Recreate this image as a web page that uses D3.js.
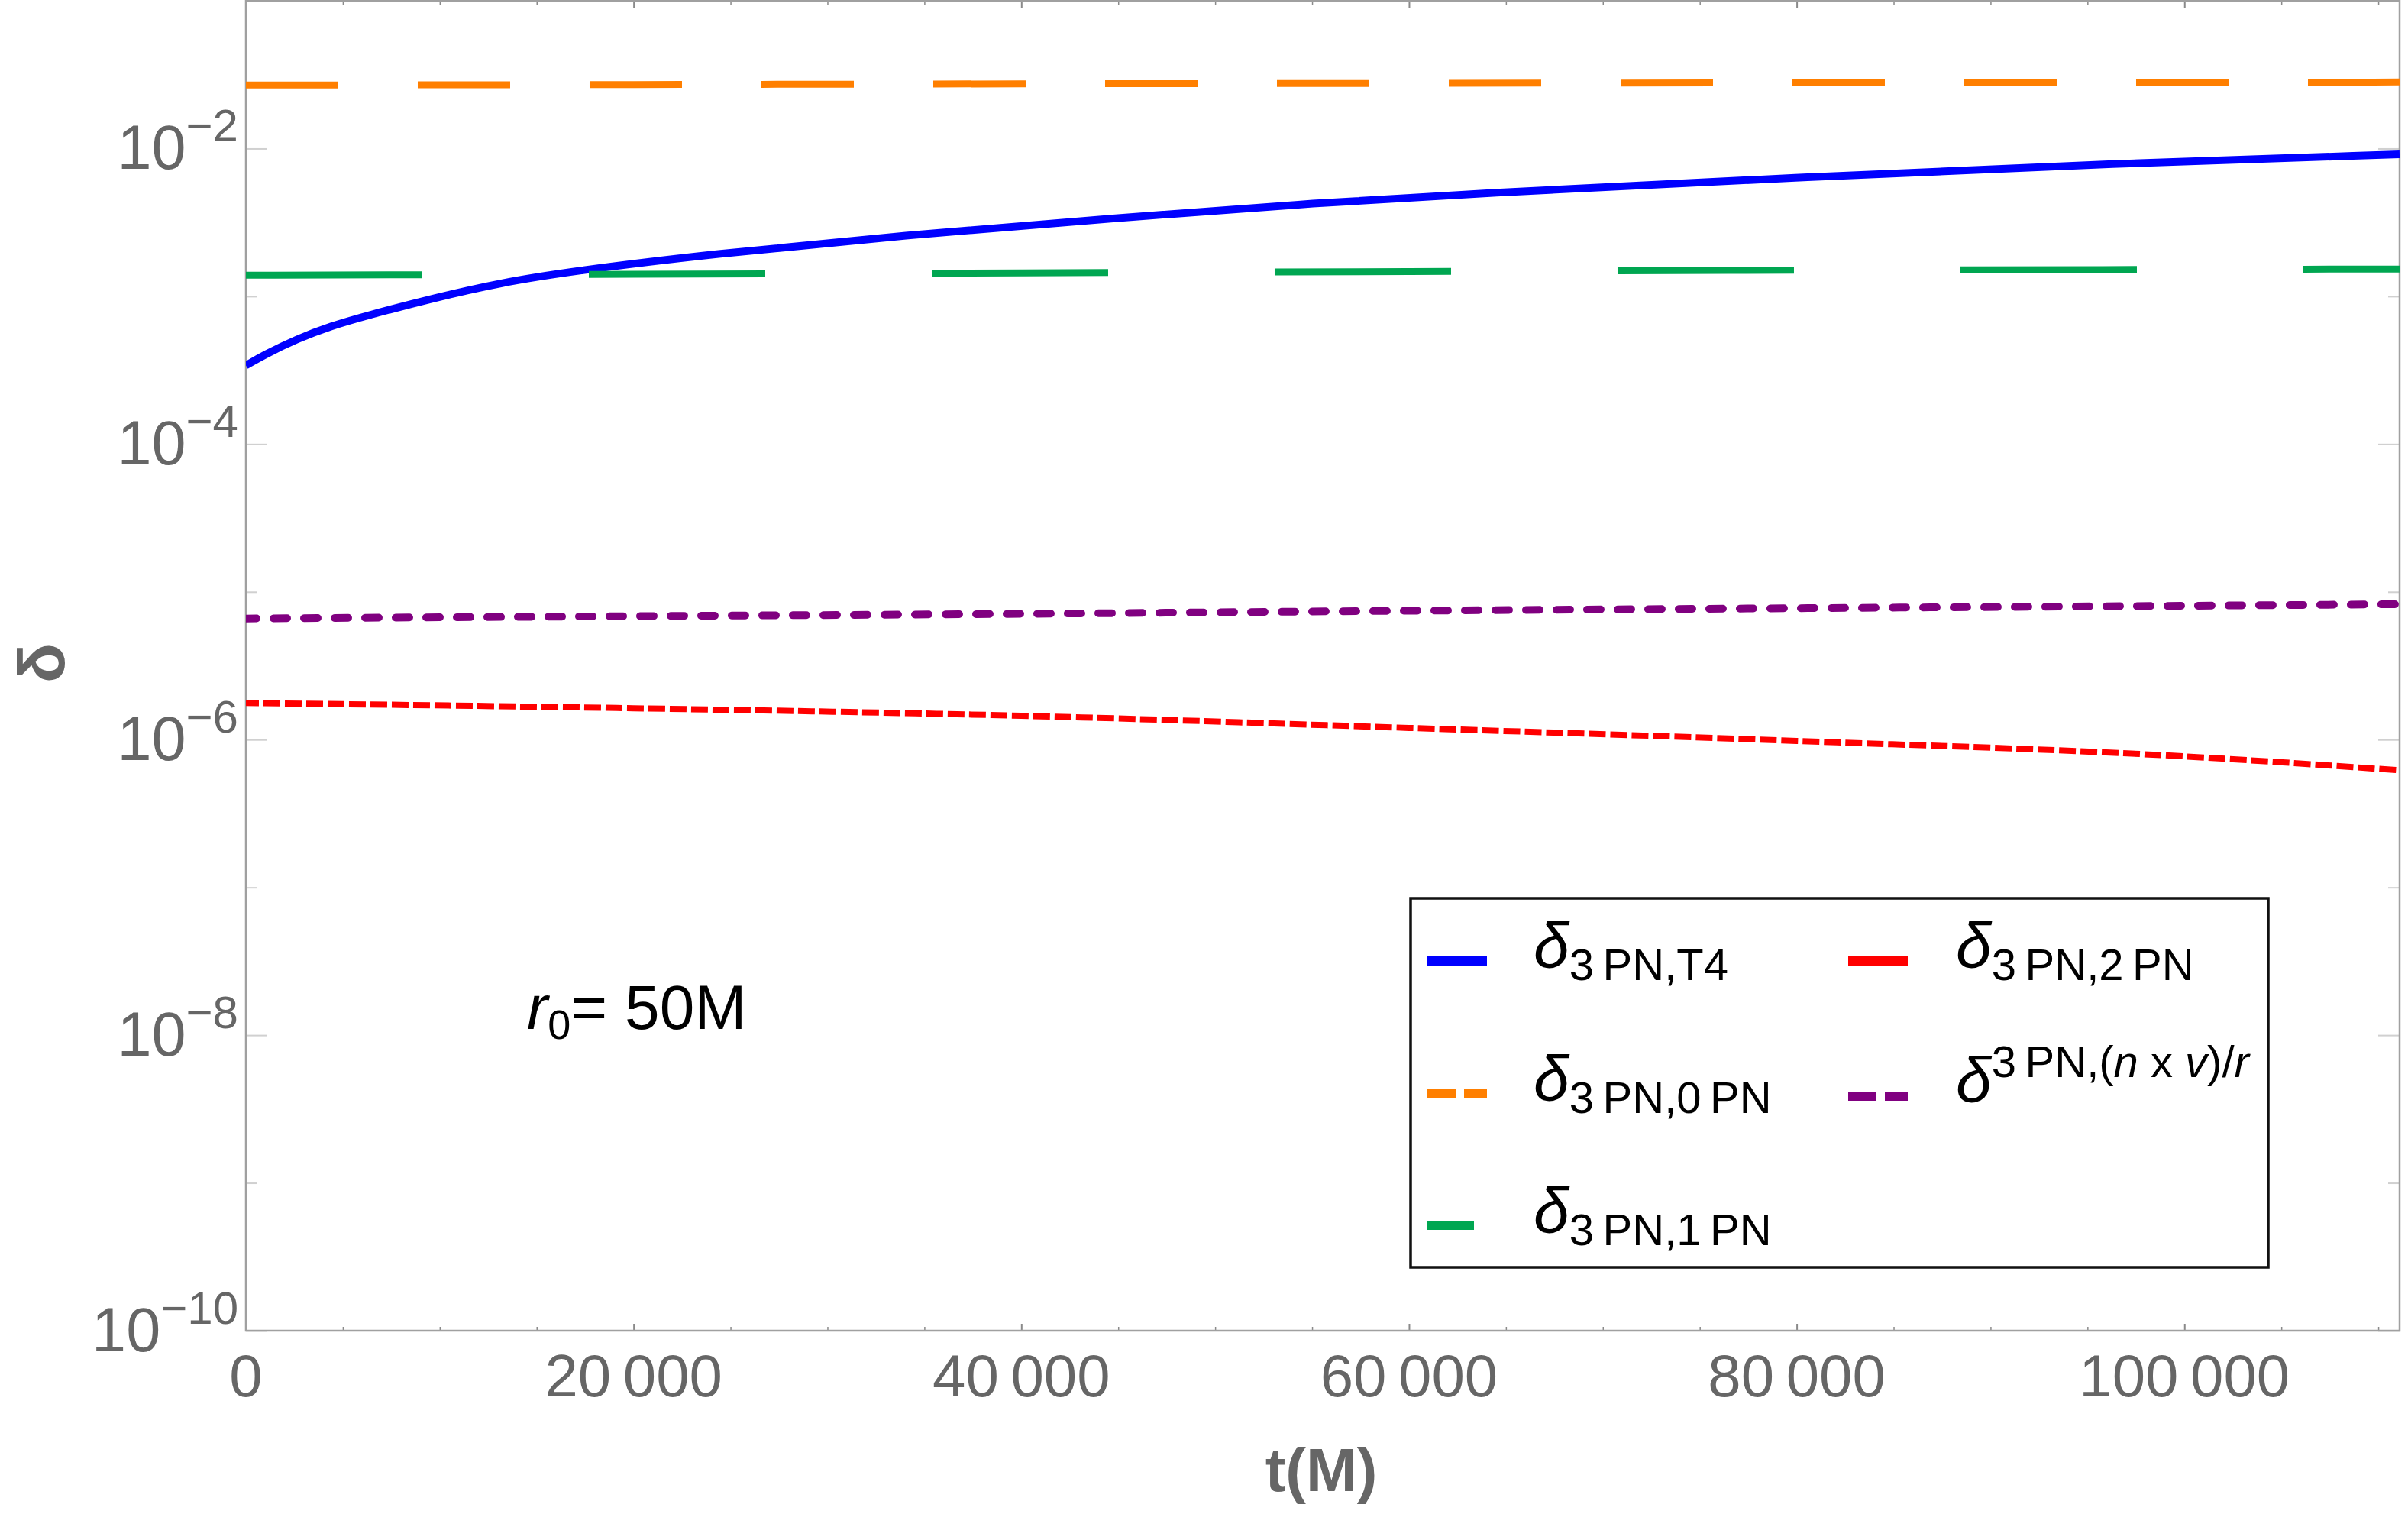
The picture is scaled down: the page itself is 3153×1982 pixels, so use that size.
<!DOCTYPE html>
<html>
<head>
<meta charset="utf-8">
<script src="https://cdn.jsdelivr.net/npm/d3@7"></script>
<style>
  html, body { margin: 0; padding: 0; background: #fff; }
  svg { display: block; font-family: "Liberation Sans", Arial, Helvetica, sans-serif; }
</style>
</head>
<body>
<svg id="chart" width="3153" height="1982"></svg>
<script>
// data (t in M, delta values)
const blueT = [0, 900, 2650, 4400, 6200, 9700, 13200, 16700, 23800, 34400, 44900,
  54400, 63200, 79900, 96700, 111100];
const blueVals = [3.4e-4, 3.99e-4, 5.16e-4, 6.3e-4, 7.38e-4, 9.75e-4, 1.24e-3, 1.47e-3, 1.92e-3,
  2.62e-3, 3.39e-3, 4.21e-3, 4.95e-3, 6.38e-3, 7.96e-3, 9.13e-3];

const gridT = [0, 20000, 40000, 60000, 80000, 100000, 111100];
const orangeVals = [0.0269, 0.0271, 0.0274, 0.0276, 0.0279, 0.0281, 0.0282];
const greenVals = [1.39e-3, 1.41e-3, 1.44e-3, 1.47e-3, 1.50e-3, 1.52e-3, 1.53e-3];
const redVals = [1.77e-6, 1.63e-6, 1.45e-6, 1.2e-6, 9.8e-7, 7.7e-7, 6.2e-7];
const purpleVals = [6.6e-6, 6.85e-6, 7.1e-6, 7.45e-6, 7.75e-6, 8.05e-6, 8.25e-6];

const xMajor = [0, 20000, 40000, 60000, 80000, 100000];
const xLabels = ["0", "20\u2009000", "40\u2009000", "60\u2009000", "80\u2009000", "100\u2009000"];
const xMinor = [5000, 10000, 15000, 25000, 30000, 35000, 45000, 50000, 55000, 65000, 70000,
  75000, 85000, 90000, 95000, 105000, 110000];
const yMajor = [1e-10, 1e-8, 1e-6, 1e-4, 1e-2];
const yExpLabels = ["\u221210", "\u22128", "\u22126", "\u22124", "\u22122"];
const yMinor = [1e-9, 1e-7, 1e-5, 1e-3, 1e-1];

const L = 322, R = 3142, T = 1, B = 1742;
const svg = d3.select('#chart');

const x = d3.scaleLinear().domain([0, 111100]).range([L, R]);
const y = d3.scaleLog().domain([1e-10, 1e-1]).range([B, T]);

svg.append('defs').append('clipPath').attr('id', 'plotclip')
  .append('rect').attr('x', L).attr('y', T).attr('width', R - L).attr('height', B - T);

// tick marks
function ticks(axis, tx, ty, color, w) {
  const g = svg.append('g').attr('transform', `translate(${tx},${ty})`).call(axis);
  g.select('.domain').remove();
  g.selectAll('line').attr('stroke', color).attr('stroke-width', w);
  g.selectAll('text').remove();
}
ticks(d3.axisBottom(x).tickValues(xMajor).tickSize(-9).tickFormat(''), 0, B, '#8a8a8a', 2);
ticks(d3.axisBottom(x).tickValues(xMinor).tickSize(-5).tickFormat(''), 0, B, '#8a8a8a', 1.5);
ticks(d3.axisTop(x).tickValues(xMajor).tickSize(-9).tickFormat(''), 0, T, '#8a8a8a', 2);
ticks(d3.axisTop(x).tickValues(xMinor).tickSize(-5).tickFormat(''), 0, T, '#8a8a8a', 1.5);
ticks(d3.axisLeft(y).tickValues(yMajor).tickSize(-28).tickFormat(''), L, 0, '#d0d0d0', 2);
ticks(d3.axisLeft(y).tickValues(yMinor).tickSize(-15).tickFormat(''), L, 0, '#d0d0d0', 2);
ticks(d3.axisRight(y).tickValues(yMajor).tickSize(-28).tickFormat(''), R, 0, '#d0d0d0', 2);
ticks(d3.axisRight(y).tickValues(yMinor).tickSize(-15).tickFormat(''), R, 0, '#d0d0d0', 2);

// frame
svg.append('rect').attr('x', L).attr('y', T).attr('width', R - L).attr('height', B - T)
  .attr('fill', 'none').attr('stroke', '#a0a0a0').attr('stroke-width', 2.5);

// tick labels
svg.append('g').selectAll('text').data(xMajor).join('text')
  .attr('x', d => x(d)).attr('y', B + 86)
  .attr('text-anchor', 'middle').attr('font-size', 78).attr('fill', '#666')
  .text((d, i) => xLabels[i]);

const yl = svg.append('g').selectAll('text').data(yMajor).join('text')
  .attr('x', 312).attr('y', d => y(d) + 27)
  .attr('text-anchor', 'end').attr('fill', '#666');
yl.append('tspan').attr('font-size', 81).text('10');
yl.append('tspan').attr('font-size', 60).attr('dy', -36).text((d, i) => yExpLabels[i]);

// axis labels
svg.append('text').attr('transform', 'translate(84,868) rotate(-90)')
  .attr('text-anchor', 'middle').attr('font-size', 86).attr('font-weight', 'bold')
  .attr('fill', '#666').text('δ');
svg.append('text').attr('x', 1730).attr('y', 1952)
  .attr('text-anchor', 'middle').attr('font-size', 80).attr('font-weight', 'bold')
  .attr('fill', '#666').text('t(M)');

// curves
const line = d3.line().x(d => x(d[0])).y(d => y(d[1])).curve(d3.curveMonotoneX);
const smoothLine = d3.line().x(d => x(d[0])).y(d => y(d[1])).curve(d3.curveBasis);
const plot = svg.append('g').attr('clip-path', 'url(#plotclip)');
function curve(ts, vals, color, w, dash, cap, offset, gen) {
  plot.append('path').datum(ts.map((t, i) => [t, vals[i]]))
    .attr('d', gen || line).attr('fill', 'none').attr('stroke', color).attr('stroke-width', w)
    .attr('stroke-dasharray', dash).attr('stroke-dashoffset', offset || 0)
    .attr('stroke-linecap', cap || 'butt');
}
curve(blueT, blueVals, '#0000ff', 10, null, 'butt', 0, smoothLine);
curve(gridT, orangeVals, '#ff7f00', 9, '121,104');
curve(gridT, greenVals, '#00a651', 9, '231,218');
curve(gridT, redVals, '#ff0000', 8, '22,6', 'butt', 5);
curve(gridT, purpleVals, '#800080', 10, '18,22', 'round', 4);

// annotation
const ann = svg.append('text').attr('x', 690).attr('y', 1347).attr('fill', '#000');
ann.append('tspan').attr('font-size', 82).attr('font-style', 'italic').text('r');
ann.append('tspan').attr('font-size', 54).attr('dy', 13).text('0');
ann.append('tspan').attr('font-size', 82).attr('dy', -13).text('= 50M');

// legend
svg.append('rect').attr('x', 1847).attr('y', 1176).attr('width', 1123).attr('height', 483)
  .attr('fill', '#fff').attr('stroke', '#111').attr('stroke-width', 3.5);

const legendItems = [
  { color: '#0000ff', dash: null, sx: 1869, tx: 2008, sy: 1258, by: 1267, sub: '3\u2009PN,T4' },
  { color: '#ff7f00', dash: '37,11', sx: 1869, tx: 2008, sy: 1432, by: 1441, sub: '3\u2009PN,0\u2009PN' },
  { color: '#00a651', dash: '61,40', sx: 1869, tx: 2008, sy: 1604, by: 1614, sub: '3\u2009PN,1\u2009PN' },
  { color: '#ff0000', dash: null, sx: 2420, tx: 2561, sy: 1258, by: 1267, sub: '3\u2009PN,2\u2009PN' },
  { color: '#800080', dash: '37,11', sx: 2420, tx: 2561, sy: 1435, by: 1443, sup: true }
];
const lg = svg.append('g');
legendItems.forEach(d => {
  lg.append('line').attr('x1', d.sx).attr('x2', d.sx + 78).attr('y1', d.sy).attr('y2', d.sy)
    .attr('stroke', d.color).attr('stroke-width', 12).attr('stroke-dasharray', d.dash);
  const t = lg.append('text').attr('x', d.tx).attr('y', d.by).attr('fill', '#000');
  t.append('tspan').attr('font-size', 84).attr('font-style', 'italic').text('δ');
  if (d.sup) {
    t.append('tspan').attr('font-size', 58).attr('dy', -33).text('3\u2009PN,(');
    t.append('tspan').attr('font-size', 58).attr('font-style', 'italic').text('n');
    t.append('tspan').attr('font-size', 58).text(' x ');
    t.append('tspan').attr('font-size', 58).attr('font-style', 'italic').text('v');
    t.append('tspan').attr('font-size', 58).text(')/');
    t.append('tspan').attr('font-size', 58).attr('font-style', 'italic').text('r');
  } else {
    t.append('tspan').attr('font-size', 58).attr('dy', 16).text(d.sub);
  }
});
</script>
</body>
</html>
